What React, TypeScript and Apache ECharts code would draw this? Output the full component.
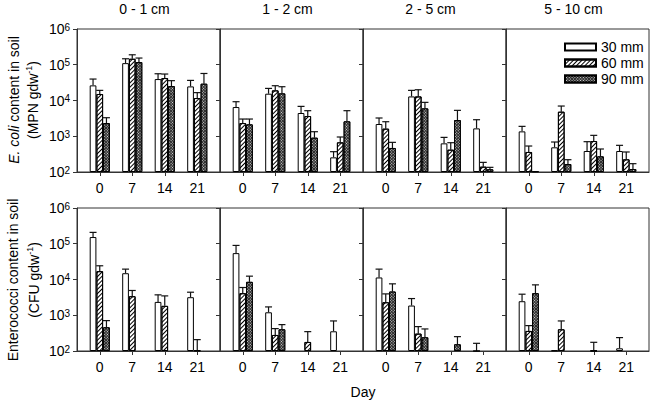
import React, { useEffect, useRef } from 'react';
import * as echarts from 'echarts';

const days = ['0', '7', '14', '21'];
const depths = ['0 - 1 cm', '1 - 2 cm', '2 - 5 cm', '5 - 10 cm'];
const treatments = ['30 mm', '60 mm', '90 mm'];

// E. coli (MPN gdw-1): one row per depth, values for days 0, 7, 14, 21
const ecoli30 = [
  [26500, 111000, 39800, 24800],
  [6560, 15500, 4470, 257],
  [2200, 13000, 633, 1660],
  [1370, 490, 387, 387],
];
const ecoli30Top = [
  [39800, 147000, 56000, 36500],
  [9250, 21800, 6850, 370],
  [3240, 19200, 930, 2900],
  [1890, 690, 705, 557],
];
const ecoli60 = [
  [15200, 147000, 42500, 11700],
  [2340, 19200, 3680, 675],
  [1630, 13000, 421, 141],
  [363, 4860, 736, 226],
];
const ecoli60Top = [
  [19200, 190000, 55000, 16600],
  [3030, 25900, 5190, 953],
  [2550, 20000, 660, 186],
  [533, 7000, 1060, 363],
];
const ecoli90 = [
  [2340, 119000, 25400, 29500],
  [2150, 15800, 912, 2610],
  [470, 6020, 2840, 119],
  [105, 167, 274, 121],
];
const ecoli90Top = [
  [3300, 154000, 35900, 57000],
  [3030, 24300, 1340, 5190],
  [675, 8870, 5300, 135],
  [null, 221, 440, 171],
];

// Enterococci (CFU gdw-1)
const entero30 = [
  [154000, 15000, 2360, 3200],
  [54700, 1210, null, 356],
  [11400, 1870, null, 100],
  [2470, 104, null, 119],
];
const entero30Top = [
  [208000, 19500, 3720, 4410],
  [89800, 1710, null, 693],
  [19500, 2930, null, 164],
  [3880, null, null, 237],
];
const entero60 = [
  [17100, 3410, 1830, 104],
  [4140, 281, 179, null],
  [2310, 306, null, null],
  [364, 405, 102, null],
];
const entero60Top = [
  [24200, 4930, 3480, 208],
  [5970, 423, 348, null],
  [3960, 481, null, null],
  [513, 693, 175, null],
];
const entero90 = [
  [461, null, null, null],
  [8600, 405, null, null],
  [4610, 242, 154, null],
  [4140, null, null, null],
];
const entero90Top = [
  [708, null, null, null],
  [12400, 547, null, null],
  [7560, 414, 252, null],
  [7080, null, null, null],
];

const FONT = '"Liberation Sans", Arial, Helvetica, sans-serif';
const BAR_W = 6.7;
const CAP_W = 7;
const LINE = '#333';

const rows = [
  { means: [ecoli30, ecoli60, ecoli90], tops: [ecoli30Top, ecoli60Top, ecoli90Top] },
  { means: [entero30, entero60, entero90], tops: [entero30Top, entero60Top, entero90Top] },
];

const barStyles: any[] = [
  { color: '#fff', borderColor: '#000', borderWidth: 1 },
  {
    color: '#fff', borderColor: '#000', borderWidth: 1,
    decal: { symbol: 'rect', symbolSize: 1, color: '#000', dashArrayX: [1, 0], dashArrayY: [1, 1.6], rotation: -Math.PI / 4 },
  },
  {
    color: '#2a2a2a', borderColor: '#000', borderWidth: 1,
    decal: { symbol: 'rect', symbolSize: 1, color: '#ddd', dashArrayX: [1, 1], dashArrayY: [1, 1], rotation: Math.PI / 4 },
  },
];

export default function App() {
  const ref = useRef<HTMLDivElement>(null);
  useEffect(() => {
    const chart = echarts.init(ref.current!, null, { renderer: 'svg' });
    const grids: any[] = [];
    const xAxes: any[] = [];
    const yAxes: any[] = [];
    const series: any[] = [];
    const graphics: any[] = [];
    const panelLeft = 77;
    const panelW = 143;
    const panelH = 143;
    const rowTop = [29, 208];

    rows.forEach((row, r) => {
      for (let c = 0; c < 4; c++) {
        const g = grids.length;
        grids.push({
          left: panelLeft + c * panelW,
          top: rowTop[r],
          width: panelW,
          height: panelH,
          show: true,
          borderColor: LINE,
          borderWidth: 1,
          backgroundColor: 'transparent',
        });
        xAxes.push({
          type: 'value',
          gridIndex: g,
          min: -0.7,
          max: 3.7,
          splitLine: { show: false },
          axisLine: { show: true, onZero: false, lineStyle: { color: LINE, width: 1 } },
          axisTick: { show: true, customValues: [0, 1, 2, 3], length: 4, lineStyle: { color: LINE } },
          axisLabel: {
            customValues: [0, 1, 2, 3],
            formatter: (v: number) => days[Math.round(v)],
            fontSize: 14,
            fontFamily: FONT,
            color: '#000',
            margin: 9,
          },
        });
        yAxes.push({
          type: 'log',
          logBase: 10,
          gridIndex: g,
          min: 100,
          max: 1000000,
          startValue: 100,
          splitLine: { show: false },
          axisLine: { show: true, onZero: false, lineStyle: { color: LINE, width: 1 } },
          axisTick: { show: true, length: 4, lineStyle: { color: LINE } },
          axisLabel: {
            show: c === 0,
            margin: 7,
            formatter: (v: number) => `{b|10}{sup|${Math.round(Math.log10(v))}}`,
            rich: {
              b: { fontSize: 14, fontFamily: FONT, color: '#000', lineHeight: 14, verticalAlign: 'bottom' },
              sup: { fontSize: 10, fontFamily: FONT, color: '#000', lineHeight: 10, verticalAlign: 'top', padding: [0, 0, 6, 0] },
            },
          },
        });
        const errData: any[] = [];
        for (let t = 0; t < 3; t++) {
          const m = row.means[t][c];
          const tp = row.tops[t][c];
          const data: any[] = [];
          m.forEach((v, i) => {
            if (v != null) data.push([i, v]);
            if (v != null && tp[i] != null) errData.push([i, v, tp[i], t]);
          });
          series.push({
            type: 'bar',
            name: treatments[t],
            xAxisIndex: g,
            yAxisIndex: g,
            barWidth: BAR_W,
            barGap: '0%',
            itemStyle: barStyles[t],
            data,
          });
        }
        series.push({
          type: 'custom',
          xAxisIndex: g,
          yAxisIndex: g,
          silent: true,
          encode: { x: 0, y: 1 },
          data: errData,
          renderItem: (params: any, api: any) => {
            const x = api.value(0);
            const m = api.value(1);
            const tp = api.value(2);
            const t = api.value(3);
            const p0 = api.coord([x, m]);
            const p1 = api.coord([x, tp]);
            const cx = p0[0] + (t - 1) * BAR_W;
            const st = { stroke: '#111', lineWidth: 1.2 };
            return {
              type: 'group',
              children: [
                { type: 'line', shape: { x1: cx, y1: p0[1], x2: cx, y2: p1[1] }, style: st },
                { type: 'line', shape: { x1: cx - CAP_W / 2, y1: p1[1], x2: cx + CAP_W / 2, y2: p1[1] }, style: st },
              ],
            };
          },
        });
      }
    });

    depths.forEach((d, c) => {
      graphics.push({
        type: 'text',
        x: panelLeft + c * panelW + panelW / 2 - 4,
        y: 9,
        style: {
          text: d, fontSize: 14, fontFamily: FONT, fill: '#000',
          align: 'center', verticalAlign: 'middle', textAlign: 'center', textVerticalAlign: 'middle',
        },
      });
    });

    const yTitle = (text: string, x: number, y: number, rich: any) => ({
      type: 'text',
      x,
      y,
      rotation: Math.PI / 2,
      style: {
        text, fontSize: 14, fontFamily: FONT, fill: '#000', rich,
        align: 'center', verticalAlign: 'middle', textAlign: 'center', textVerticalAlign: 'middle',
      },
    });
    const richBase = {
      n: { fontSize: 14, fontFamily: FONT, fill: '#000', color: '#000', lineHeight: 15, verticalAlign: 'bottom' },
      i: { fontSize: 14, fontFamily: FONT, fill: '#000', color: '#000', fontStyle: 'italic', lineHeight: 15, verticalAlign: 'bottom' },
      sup: { fontSize: 9, fontFamily: FONT, fill: '#000', color: '#000', lineHeight: 9, verticalAlign: 'top', padding: [0, 0, 6, 0] },
    };
    graphics.push(yTitle('{i|E. coli}{n| content in soil}', 13, 100, richBase));
    graphics.push(yTitle('{n|(MPN gdw}{sup|-1}{n|)}', 32, 100, richBase));
    graphics.push(yTitle('{n|Enterococci content in soil}', 12, 280, richBase));
    graphics.push(yTitle('{n|(CFU gdw}{sup|-1}{n|)}', 33, 280, richBase));
    graphics.push({
      type: 'text',
      x: 363,
      y: 392,
      style: {
        text: 'Day', fontSize: 14, fontFamily: FONT, fill: '#000',
        align: 'center', verticalAlign: 'middle', textAlign: 'center', textVerticalAlign: 'middle',
      },
    });

    chart.setOption({
      animation: false,
      backgroundColor: '#fff',
      grid: grids,
      xAxis: xAxes,
      yAxis: yAxes,
      series,
      legend: {
        data: treatments,
        selectedMode: false,
        orient: 'vertical',
        left: 559,
        top: 35,
        itemWidth: 31,
        itemHeight: 7,
        itemGap: 2,
        icon: 'rect',
        textStyle: { fontSize: 14, fontFamily: FONT, color: '#000' },
      },
      graphic: graphics,
    });
    return () => chart.dispose();
  }, []);
  return <div ref={ref} style={{ position: 'absolute', left: 0, top: 0, width: 650, height: 401 }} />;
}
